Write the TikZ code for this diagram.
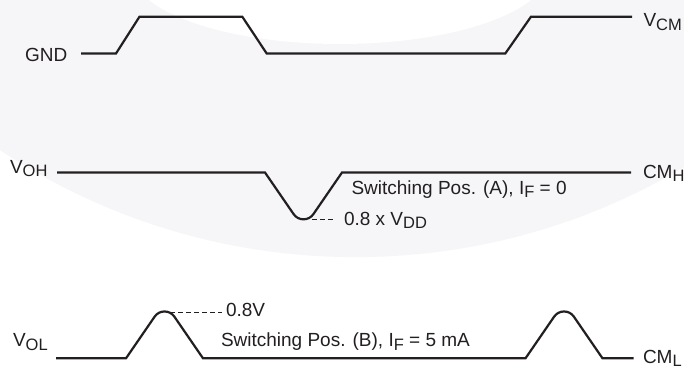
\documentclass[tikz,border=0pt]{standalone}
\usepackage{fontspec}
\setmainfont{Liberation Sans}
\definecolor{ink}{HTML}{231F20}
\definecolor{wm}{HTML}{F6F6F8}
\newcommand{\lsub}[1]{\raisebox{-3.5pt}{\fontsize{16.5}{16.5}\selectfont #1}}
\tikzset{
  wave/.style={line width=2.2pt, draw=ink, line join=miter},
  lead/.style={line width=1pt, draw=ink, dash pattern=on 5pt off 3pt},
  lbl/.style={inner sep=0pt, outer sep=0pt, anchor=base west, text=ink, font=\fontsize{19}{19}\selectfont},
  % dip (downward) and peak (upward) with rounded tip
  dip/.style={},
}
\newcommand{\dipto}{-- ++(28.64,41.66) .. controls +(4.74,6.90) and +(-4.74,6.90) .. ++(19.72,0) -- ++(28.64,-41.66)}
\newcommand{\peakto}{-- ++(28.64,-41.66) .. controls +(4.74,-6.90) and +(-4.74,-6.90) .. ++(19.72,0) -- ++(28.64,41.66)}
\begin{document}
\begin{tikzpicture}[x=1pt,y=-1pt]
\useasboundingbox (0,0) rectangle (684,369);
\clip (0,0) rectangle (684,369);
% watermark background
\fill[white] (0,0) rectangle (684,369);
\fill[wm] (355.5,-386.3) circle[radius=643.4];
\fill[white] (340,-30) ellipse[x radius=209, y radius=74];

% labels
\node[lbl] (gnd) at (25,61) {GND};
\node[lbl] (vcm) at (643.5,27) {V\lsub{CM}};
\node[lbl] (voh) at (10,173.3) {V\lsub{OH}};
\node[lbl] (cmh) at (643,178) {CM\lsub{H}};
\node[lbl] (swa) at (351.5,194) {Switching Pos. (A), I\lsub{F} = 0};
\node[lbl] (vdd) at (344,225) {0.8 x V\lsub{DD}};
\node[lbl] (vol) at (13,346.7) {V\lsub{OL}};
\node[lbl] (cml) at (643,363.3) {CM\lsub{L}};
\node[lbl] (v08) at (226,316.7) {0.8V};
\node[lbl] (swb) at (221,346.7) {Switching Pos. (B), I\lsub{F} = 5 mA};

% top waveform
\coordinate (t0) at (81,53.5);
\coordinate (t1) at (632,16.7);
\draw[wave] (t0) -- (116,53.5) -- (139.5,16.7) -- (242.3,16.7) -- (266.7,53.5)
  -- (505.3,53.5) -- (531,16.7) -- (t1);

% middle waveform
\coordinate (m0) at (57,172.5);
\coordinate (m1) at (631,172.5);
\draw[wave] (m0) -- (265,172.5) \dipto -- (m1);
\coordinate (dipb) at (312,219.4);
\draw[lead] (dipb) -- (335,219.4);

% bottom waveform
\coordinate (b0) at (56,358.3);
\coordinate (b1) at (633.7,358.3);
\draw[wave] (b0) -- (126,358.3) \peakto -- (525.5,358.3) \peakto -- (b1);
\coordinate (pk1) at (170,312.4);
\draw[lead] (pk1) -- (222,312.4);
\end{tikzpicture}
\end{document}
